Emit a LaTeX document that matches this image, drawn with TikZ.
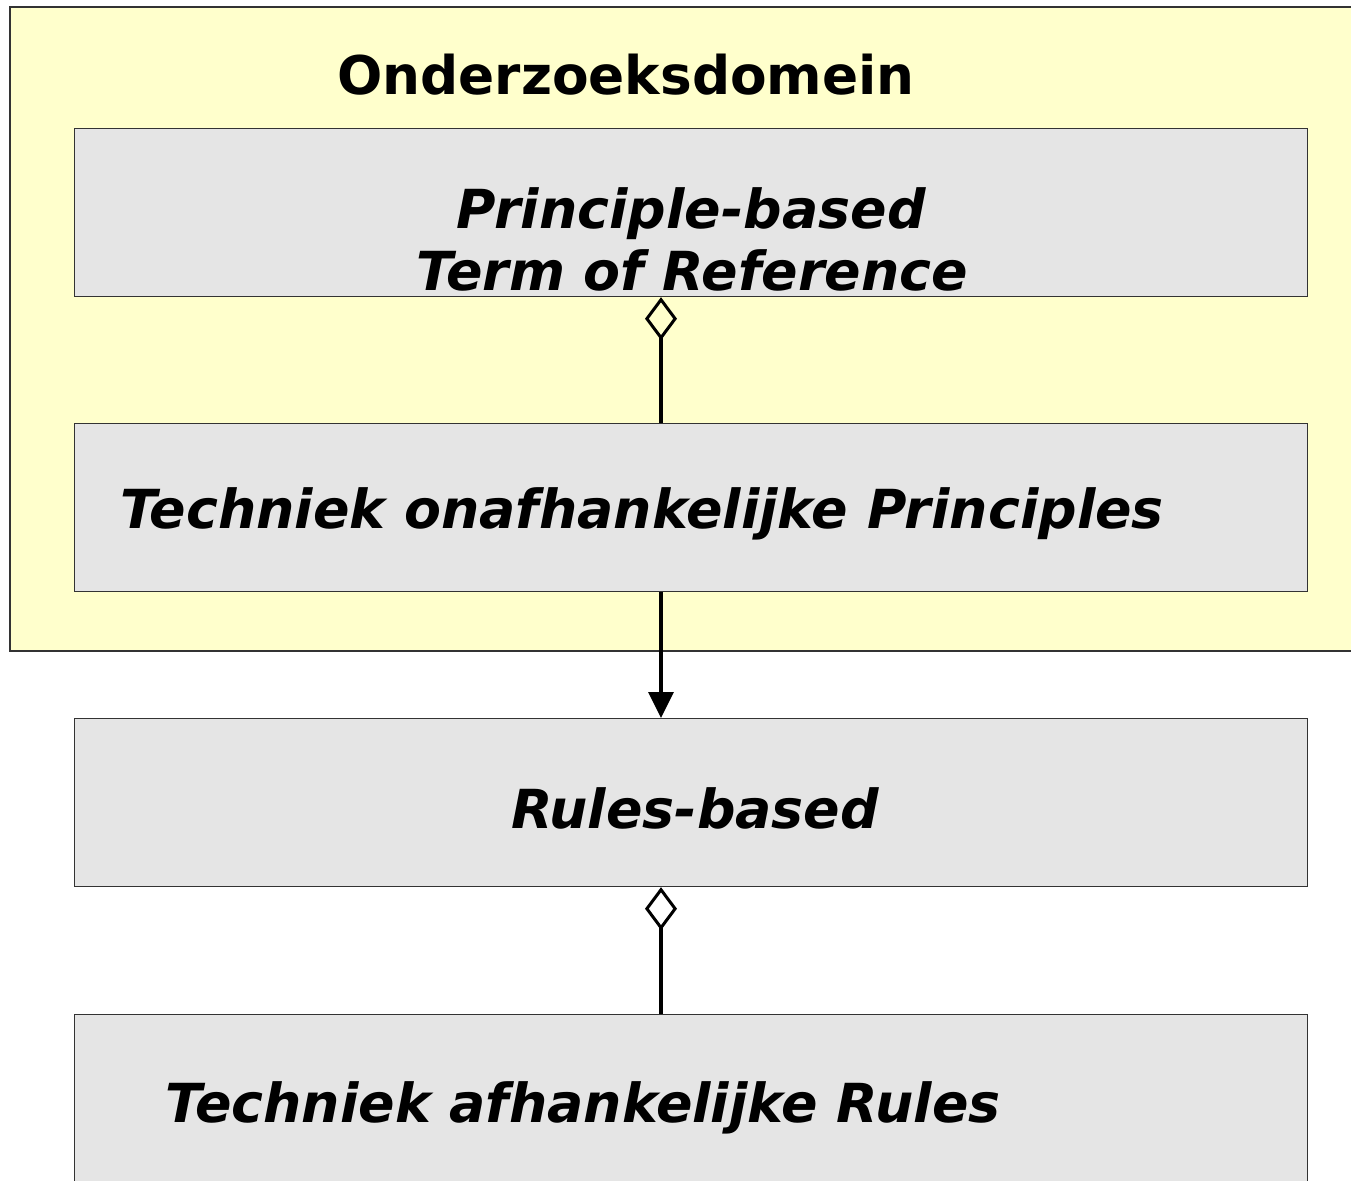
\documentclass[tikz,border=0pt]{standalone}
\usepackage{fontspec}
\setmainfont{DejaVu Sans}
\usetikzlibrary{arrows.meta}
\definecolor{domainfill}{HTML}{FFFFCC}
\definecolor{boxfill}{HTML}{E5E5E5}
\definecolor{boxline}{HTML}{333333}
\begin{document}
\begin{tikzpicture}[x=1pt,y=-1pt,
  layer/.style={draw=boxline,line width=1.2pt,fill=boxfill,rectangle,anchor=north west,
    minimum width=1233pt,minimum height=168pt,inner sep=0pt},
  lbl/.style={anchor=base,inner sep=0pt,font=\fontsize{53.8}{62}\selectfont\bfseries\itshape},
  link/.style={line width=3.2pt},
  agg/.style={link,-{Diamond[open,length=43pt,width=32pt,line width=3pt]}},
  flow/.style={link,-{Triangle[length=26pt,width=25pt]}}]
\useasboundingbox (0,0) rectangle (1351,1180);
% research domain
\fill[domainfill] (10,7) rectangle (1352,651);
\draw[boxline,line width=1.2pt] (1352,7) -- (10,7) -- (10,651) -- (1352,651);
\node[anchor=base,inner sep=0pt,font=\fontsize{53.3}{62}\selectfont\bfseries] (title) at (626,95) {Onderzoeksdomein};
% layers
\node[layer] (pbt) at (74,128) {};
\node[layer] (tip) at (74,423) {};
\node[layer] (rb) at (74,718) {};
\node[layer,minimum height=180pt] (tar) at (74,1014) {};
% labels
\node[lbl] (pbt1) at (691,228) {Principle-based};
\node[lbl] (pbt2) at (692,290) {Term of Reference};
\node[lbl] (tipl) at (642,528) {Techniek onafhankelijke Principles};
\node[lbl] (rbl) at (695,828) {Rules-based};
\node[lbl] (tarl) at (583,1122) {Techniek afhankelijke Rules};
% connectors
\coordinate (axis) at (661,0);
\draw[agg] (tip.north -| axis) -- (pbt.south -| axis);
\draw[flow] (tip.south -| axis) -- (rb.north -| axis);
\draw[agg] (tar.north -| axis) -- (rb.south -| axis);
\end{tikzpicture}
\end{document}
